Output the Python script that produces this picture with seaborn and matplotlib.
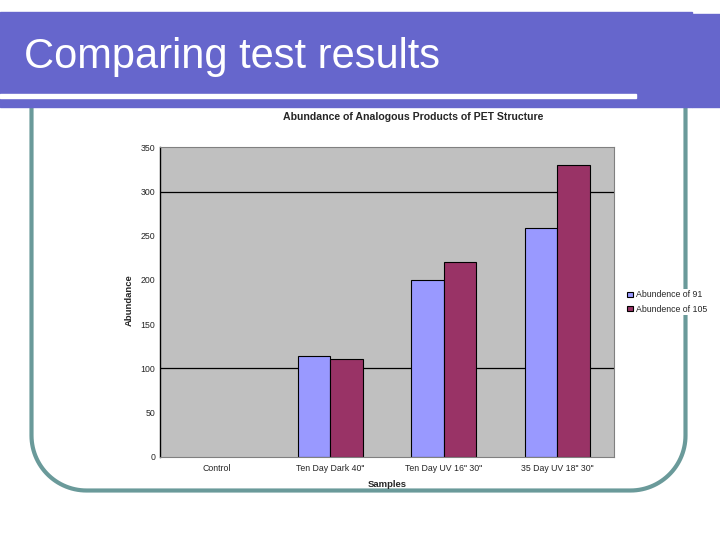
import numpy as np
import pandas as pd
import matplotlib
matplotlib.use('Agg')
import matplotlib.pyplot as plt
import matplotlib.patches as mpatches
from matplotlib.lines import Line2D
import seaborn as sns

# Data
samples = ['Control', 'Ten Day Dark 40"', 'Ten Day UV 16" 30"', '35 Day UV 18" 30"']
abundance_91 = [0, 114, 200, 259]
abundance_105 = [0, 110, 220, 330]
series_names = ['Abundence of 91', 'Abundence of 105']
series_colors = ['#9999FF', '#993366']
y_ticks = [0, 50, 100, 150, 200, 250, 300, 350]
grid_levels = [100, 300]

df = pd.DataFrame({
    'Samples': samples * 2,
    'Abundance': abundance_91 + abundance_105,
    'Series': [series_names[0]] * len(samples) + [series_names[1]] * len(samples),
})

sns.set_style('white')
plt.rcParams['font.family'] = ['Liberation Sans', 'DejaVu Sans']

W, H = 720, 540
fig = plt.figure(figsize=(7.2, 5.4), dpi=100)


def fx(px):
    return px / W


def fy(py):
    return 1 - py / H


# slide decoration: teal rounded frame (behind the chart)
teal = '#6A9A9A'
r = 55
left, right, bottom = 31.5, 685.5, 490.5
th_l = np.linspace(np.pi, np.pi / 2, 30)
th_r = np.linspace(np.pi / 2, 0, 30)
xs = [left] + list(left + r + r * np.cos(th_l)) + list(right - r + r * np.cos(th_r)) + [right]
ys = [100] + list(bottom - r + r * np.sin(th_l)) + list(bottom - r + r * np.sin(th_r)) + [100]
fig.add_artist(Line2D([fx(v) for v in xs], [fy(v) for v in ys], color=teal,
                      lw=3.0, transform=fig.transFigure, zorder=-3))

# purple title band and white rule
fig.add_artist(mpatches.Rectangle((fx(0), fy(107)), fx(692), fy(12) - fy(107),
                                  transform=fig.transFigure, color='#6666CC', zorder=-2))
fig.add_artist(mpatches.Rectangle((fx(692), fy(107)), fx(28), fy(14) - fy(107),
                                  transform=fig.transFigure, color='#6666CC', zorder=-2))
fig.add_artist(mpatches.Rectangle((fx(0), fy(98.5)), fx(636), fy(94) - fy(98.5),
                                  transform=fig.transFigure, color='white', zorder=-1))
fig.text(fx(24), fy(57), 'Comparing test results', color='white', fontsize=30,
         va='center', ha='left', zorder=-1)

# chart
ax = fig.add_axes([fx(160), fy(456.6), fx(614 - 160), fy(147.4) - fy(456.6)])
ax.set_facecolor('#C0C0C0')
for v in grid_levels:
    ax.axhline(v, color='black', lw=0.9, zorder=0.5)

sns.barplot(data=df, x='Samples', y='Abundance', hue='Series', order=samples,
            hue_order=series_names, palette=series_colors, width=0.57,
            edgecolor='black', linewidth=0.8, saturation=1, ax=ax, zorder=2)

ax.legend(loc='center left', bbox_to_anchor=(fx(621), fy(302)), bbox_transform=fig.transFigure,
          frameon=True, facecolor='white', edgecolor='none', framealpha=1, fancybox=False,
          fontsize=6.3, handlelength=0.7, handleheight=0.6,
          handletextpad=0.35, labelspacing=0.6, borderpad=0.2)

# zero-height bars are not drawn in the original
for p in ax.patches:
    if p.get_height() == 0:
        p.set_visible(False)

ax.set_ylim(0, 350)
ax.set_xlim(-0.5, len(samples) - 0.5)
ax.set_yticks(y_ticks)
ax.set_yticklabels([str(t) for t in y_ticks], fontsize=6.3)
ax.tick_params(axis='y', length=0, pad=3.5)
ax.tick_params(axis='x', length=0, pad=5, labelsize=6.3)
ax.set_xticks([2.5], minor=True)
ax.tick_params(axis='x', which='minor', length=3, color='black', width=0.8)

for side in ['top', 'right', 'bottom']:
    ax.spines[side].set_color('#808080')
    ax.spines[side].set_linewidth(0.8)
ax.spines['left'].set_color('black')
ax.spines['left'].set_linewidth(1)

ax.set_title('Abundance of Analogous Products of PET Structure', fontsize=7.6,
             fontweight='bold', y=1.09, x=0.557, pad=0)
ax.set_xlabel('Samples', fontsize=6.8, fontweight='bold')
ax.xaxis.set_label_coords(0.5, -0.075)
ax.set_ylabel('Abundance', fontsize=6.8, fontweight='bold')
ax.yaxis.set_label_coords(-0.057, 0.507)

fig.savefig('out.png', dpi=100)
